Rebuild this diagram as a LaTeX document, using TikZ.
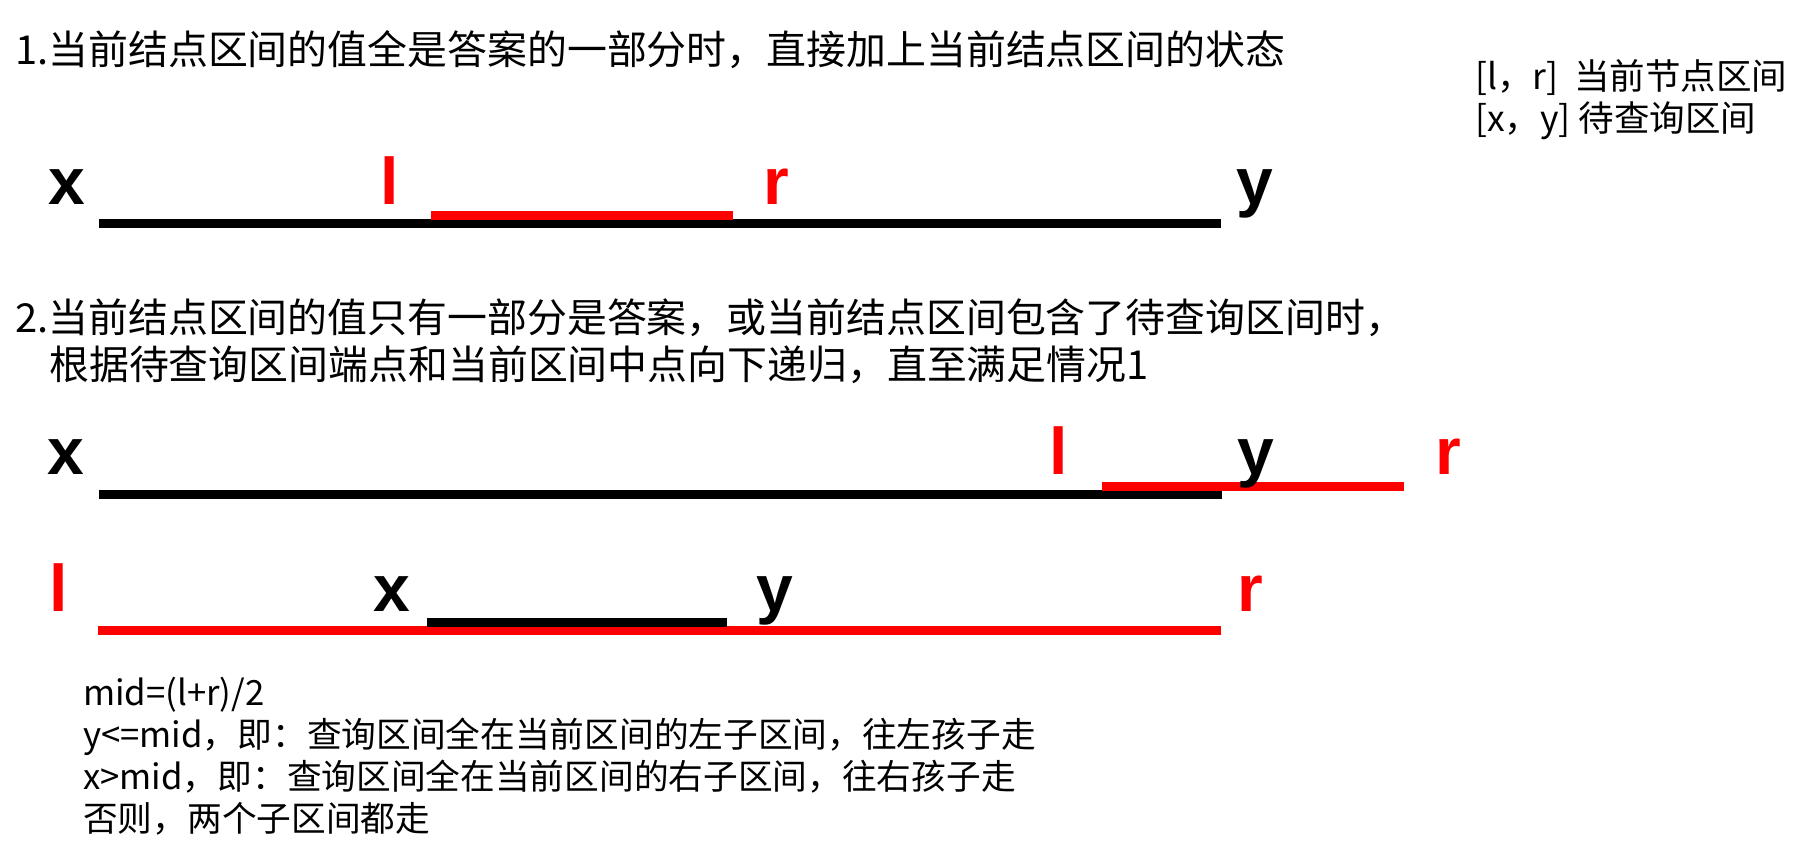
\documentclass[tikz,border=0pt]{standalone}
\usepackage{fontspec}
\newfontfamily\cjk{Noto Sans CJK SC}
\newfontfamily\ptfont{Liberation Sans}
\definecolor{segred}{RGB}{255,0,0}
\begin{document}
\begin{tikzpicture}[x=1pt,y=-1pt,
  headline/.style={anchor=base west, inner sep=0pt, font=\cjk\fontsize{39.9}{47}\selectfont},
  smalltext/.style={anchor=base west, inner sep=0pt, font=\cjk\fontsize{34.7}{42}\selectfont},
  legtext/.style={anchor=base west, inner sep=0pt, font=\cjk\fontsize{35.5}{42}\selectfont},
  endpt/.style={anchor=base, inner sep=0pt, font=\ptfont\bfseries\fontsize{66}{70}\selectfont},
  redpt/.style={endpt, text=segred},
  qbar/.style={line width=9pt, black},
  nbar/.style={line width=9pt, segred}]
\useasboundingbox (0,0) rectangle (1801,851);
% headings
\node[headline] (case1) at (15,65) {1.当前结点区间的值全是答案的一部分时，直接加上当前结点区间的状态};
\node[headline] (case2a) at (15,332) {2.当前结点区间的值只有一部分是答案，或当前结点区间包含了待查询区间时，};
\node[headline] (case2b) at (49,379) {根据待查询区间端点和当前区间中点向下递归，直至满足情况1};
% legend
\node[legtext] (legnode) at (1475,89.5) {[l，r]\ \ 当前节点区间};
\node[legtext] (legquery) at (1475,131) {[x，y] 待查询区间};
% case 1
\draw[qbar] (99,223.5) -- (1221,223.5);
\draw[nbar] (431,215) -- (733,215);
\node[endpt] (ax) at (67,204) {x};
\node[redpt] (al) at (390,204) {l};
\node[redpt] (ar) at (776,204) {r};
\node[endpt] (ay) at (1255,204) {y};
% case 2, overlap
\draw[qbar] (99,494.5) -- (1222,494.5);
\draw[nbar] (1102,486) -- (1404,486);
\node[endpt] (bx) at (66,474) {x};
\node[redpt] (bl) at (1059,474) {l};
\node[endpt] (by) at (1256,474) {y};
\node[redpt] (br) at (1448,474) {r};
% case 2, containment
\draw[nbar] (98,630.5) -- (1221,630.5);
\draw[qbar] (427,622) -- (727,622);
\node[redpt] (cl) at (59,611) {l};
\node[endpt] (cx) at (392,611) {x};
\node[endpt] (cy) at (775,611) {y};
\node[redpt] (cr) at (1250,611) {r};
% notes
\node[smalltext] (mid) at (83,705.5) {mid=(l+r)/2};
\node[smalltext] (goleft) at (83,747.5) {y<=mid，即：查询区间全在当前区间的左子区间，往左孩子走};
\node[smalltext] (goright) at (83,789.5) {x>mid，即：查询区间全在当前区间的右子区间，往右孩子走};
\node[smalltext] (goboth) at (83,831.5) {否则，两个子区间都走};
\end{tikzpicture}
\end{document}
